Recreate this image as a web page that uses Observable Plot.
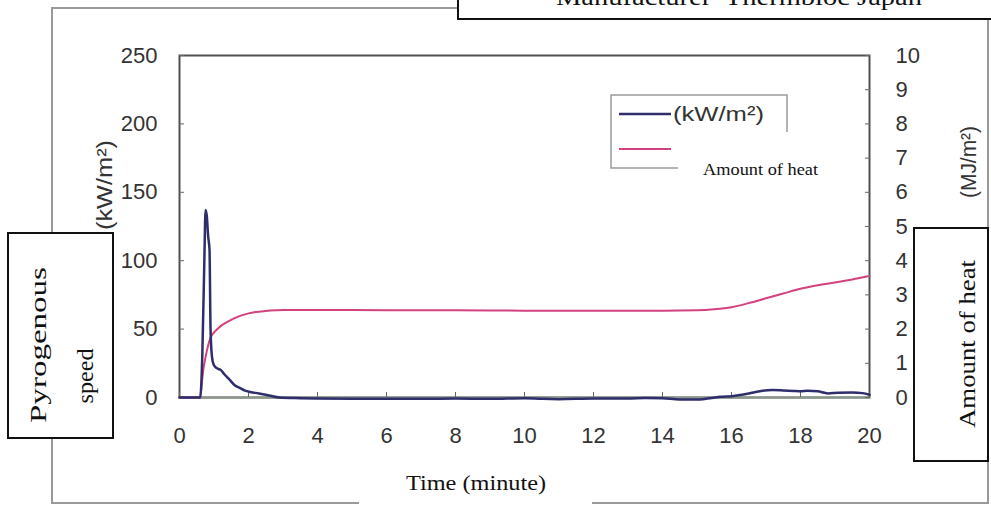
<!DOCTYPE html>
<html>
<head>
<meta charset="utf-8">
<script src="https://cdn.jsdelivr.net/npm/d3@7"></script>
<script src="https://cdn.jsdelivr.net/npm/@observablehq/plot@0.6"></script>
<style>
  html, body { margin: 0; padding: 0; background: #fff; }
  #chart { width: 991px; height: 507px; }
</style>
</head>
<body>
<div id="chart"></div>
<script>
// Heat release rate (kW/m²) over time (minutes)
const kwTime = [0, 0.6, 0.66, 0.72, 0.755, 0.79, 0.83, 0.87, 0.9, 0.94, 0.99, 1.05, 1.12, 1.2, 1.3, 1.45, 1.6, 1.75, 1.9, 2.05, 2.3, 2.6, 2.9, 3.5, 4, 5, 6, 7, 8, 9, 10, 10.5, 11, 12, 13, 13.5, 14, 14.5, 15, 15.3, 15.7, 16, 16.3, 16.6, 16.9, 17.2, 17.5, 17.8, 18, 18.2, 18.5, 18.8, 19.1, 19.5, 19.8, 20];
const kwValue = [0, 0, 30, 100, 137, 133, 118, 108, 50, 30, 24, 22, 21, 20, 17, 13, 9, 7, 5, 4, 3, 1.5, 0, -0.5, -0.8, -1, -1, -1, -0.8, -1, -0.5, -1, -1.2, -0.8, -0.8, -0.3, -0.5, -1.5, -1.5, -0.8, 0.5, 1, 2, 3.5, 5, 5.5, 5.2, 4.8, 4.5, 5, 4.5, 3, 3.5, 3.6, 3.2, 2];

// Amount of heat (MJ/m²) over time (minutes)
const mjTime = [0, 0.6, 0.65, 0.7, 0.75, 0.8, 0.9, 1.0, 1.1, 1.25, 1.4, 1.6, 1.8, 2.0, 2.2, 2.5, 2.8, 3.0, 4, 6, 8, 10, 12, 14, 15, 15.5, 16, 16.5, 17, 17.5, 18, 18.5, 19, 19.5, 20];
const mjValue = [0, 0, 0.45, 0.88, 1.15, 1.4, 1.75, 1.9, 2.0, 2.13, 2.22, 2.32, 2.4, 2.46, 2.5, 2.53, 2.55, 2.56, 2.56, 2.55, 2.55, 2.54, 2.54, 2.54, 2.55, 2.58, 2.64, 2.76, 2.9, 3.04, 3.18, 3.28, 3.36, 3.45, 3.55];

const xTicks = [0, 2, 4, 6, 8, 10, 12, 14, 16, 18, 20];
const leftTicks = [0, 50, 100, 150, 200, 250];
const rightTicks = [0, 1, 2, 3, 4, 5, 6, 7, 8, 9, 10];
const rightMax = 10, leftMax = 250;
const ratio = leftMax / rightMax;

const kwData = kwTime.map((t, i) => ({t, v: kwValue[i]}));
const mjData = mjTime.map((t, i) => ({t, v: mjValue[i]}));

const tickFont = {fontSize: 22, fill: "#333"};

const chart = Plot.plot({
  width: 991,
  height: 507,
  marginLeft: 179,
  marginRight: 122,
  marginTop: 55,
  marginBottom: 110,
  style: {fontFamily: "'Liberation Sans', Arial, sans-serif", background: "white", overflow: "visible"},
  x: {domain: [0, 20]},
  y: {domain: [0, leftMax]},
  marks: [
    Plot.frame({stroke: "#505050", strokeWidth: 2}),
    Plot.ruleY([0], {stroke: "#8c978c", strokeWidth: 2}),
    // inward tick marks
    Plot.axisX({ticks: xTicks, tickSize: 5, dy: -5, fill: "none", stroke: "#666", label: null}),
    Plot.axisY({ticks: leftTicks, anchor: "left", tickSize: 5, dx: 5, fill: "none", stroke: "#666", label: null}),
    Plot.axisY({ticks: rightTicks.map(d => d * ratio), anchor: "right", tickSize: 5, dx: -5, fill: "none", stroke: "#666", label: null}),
    // tick labels
    Plot.axisX({ticks: xTicks, tickSize: 0, tickPadding: 30, label: null, ...tickFont}),
    Plot.axisY({ticks: leftTicks, anchor: "left", tickSize: 0, tickPadding: 22, label: null, ...tickFont}),
    Plot.axisY({ticks: rightTicks.map(d => d * ratio), anchor: "right", tickSize: 0, tickPadding: 26, tickFormat: d => d / ratio, label: null, ...tickFont}),
    // series
    Plot.line(mjData, {x: "t", y: d => d.v * ratio, stroke: "#d3417f", strokeWidth: 2, curve: "monotone-x"}),
    Plot.line(kwData, {x: "t", y: "v", stroke: "#2f2e6c", strokeWidth: 2.5, curve: "monotone-x"})
  ]
});
document.getElementById("chart").appendChild(chart);

// Annotations
const svg = d3.select(chart);
const serif = "'Liberation Serif', 'Times New Roman', serif";
const sans = "'Liberation Sans', Arial, sans-serif";

// outer light frame
svg.insert("rect", ":first-child")
  .attr("x", 52).attr("y", 8).attr("width", 936).attr("height", 495)
  .attr("fill", "none").attr("stroke", "#9a9a9a").attr("stroke-width", 2);

function vtext(str, x, y, font, size, fill, len) {
  const t = svg.append("text")
    .attr("transform", `translate(${x},${y}) rotate(-90)`)
    .attr("text-anchor", "middle")
    .attr("font-family", font).attr("font-size", size).attr("fill", fill)
    .text(str);
  if (len) t.attr("textLength", len).attr("lengthAdjust", "spacingAndGlyphs");
  return t;
}
function htext(str, x, y, anchor, font, size, fill, len) {
  const t = svg.append("text")
    .attr("x", x).attr("y", y).attr("text-anchor", anchor)
    .attr("font-family", font).attr("font-size", size).attr("fill", fill)
    .text(str);
  if (len) t.attr("textLength", len).attr("lengthAdjust", "spacingAndGlyphs");
  return t;
}

// axis unit labels
vtext("(kW/m²)", 112, 185, sans, 22, "#333", 90);
vtext("(MJ/m²)", 976, 162, sans, 22, "#333", 72);

// Time label with white patch
svg.append("rect").attr("x", 359).attr("y", 470).attr("width", 233).attr("height", 37).attr("fill", "white");
htext("Time (minute)", 476, 490, "middle", serif, 20, "#111", 140);

// top box
svg.append("rect").attr("x", 458).attr("y", -10).attr("width", 540).attr("height", 29)
  .attr("fill", "white").attr("stroke", "#111").attr("stroke-width", 2);
htext("Manufacturer  Thermbloc Japan", 739, 5, "middle", serif, 24, "#111", 366);

// left box
svg.append("rect").attr("x", 8).attr("y", 233).attr("width", 105).attr("height", 205)
  .attr("fill", "white").attr("stroke", "#111").attr("stroke-width", 2);
vtext("Pyrogenous", 46, 345, serif, 23, "#111", 156);
vtext("speed", 93, 376, serif, 23, "#111", 55);

// right box
svg.append("rect").attr("x", 914).attr("y", 228).attr("width", 74).attr("height", 233)
  .attr("fill", "white").attr("stroke", "#111").attr("stroke-width", 2);
vtext("Amount of heat", 975, 344, serif, 23, "#111", 168);

// legend
svg.append("rect").attr("x", 611).attr("y", 95).attr("width", 176).attr("height", 73)
  .attr("fill", "white").attr("stroke", "#9a9a9a").attr("stroke-width", 1.5);
svg.append("line").attr("x1", 619).attr("x2", 671).attr("y1", 114).attr("y2", 114)
  .attr("stroke", "#2f2e6c").attr("stroke-width", 2.5);
svg.append("line").attr("x1", 619).attr("x2", 671).attr("y1", 149).attr("y2", 149)
  .attr("stroke", "#d3417f").attr("stroke-width", 2);
htext("(kW/m²)", 673, 121, "start", sans, 20, "#333", 91);
svg.append("rect").attr("x", 678).attr("y", 132).attr("width", 112).attr("height", 50).attr("fill", "white");
htext("Amount of heat", 703, 175, "start", serif, 16, "#111", 115);
</script>
</body>
</html>
